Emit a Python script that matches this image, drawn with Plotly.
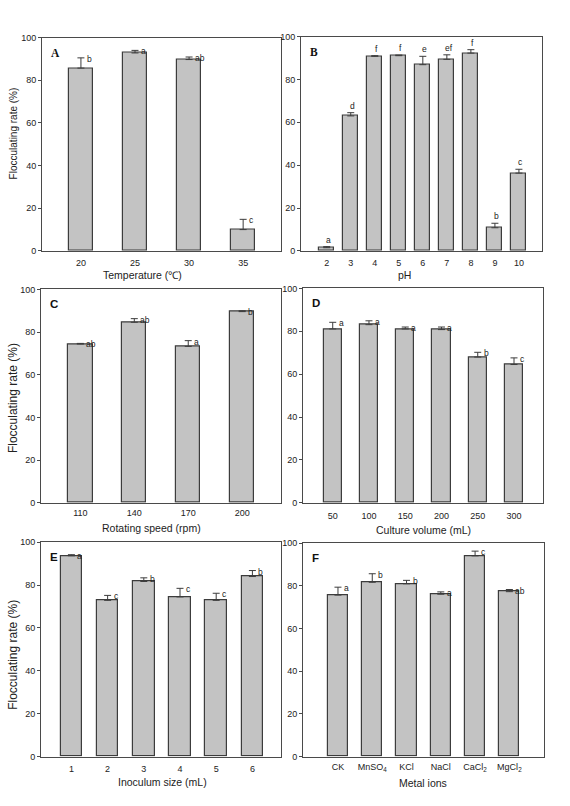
import plotly.graph_objects as go

# ---------------- data ----------------
temp_labels = ["20", "25", "30", "35"]
temp_mean = [85.7, 92.8, 89.7, 10.0]
temp_err = [4.8, 1.2, 1.2, 4.8]
temp_sig = ["b", "a", "ab", "c"]

ph_labels = ["2", "3", "4", "5", "6", "7", "8", "9", "10"]
ph_mean = [1.5, 63.0, 90.8, 91.1, 86.9, 89.4, 92.3, 10.8, 36.3]
ph_err = [0.5, 1.5, 0.3, 0.3, 3.9, 2.1, 1.6, 2.1, 1.8]
ph_sig = ["a", "d", "f", "f", "e", "ef", "f", "b", "c"]

speed_labels = ["110", "140", "170", "200"]
speed_mean = [74.4, 84.6, 73.3, 89.6]
speed_err = [0.3, 1.7, 2.7, 0.4]
speed_sig = ["ab", "ab", "a", "b"]

vol_labels = ["50", "100", "150", "200", "250", "300"]
vol_mean = [81.1, 83.1, 81.1, 80.8, 68.0, 64.5]
vol_err = [3.1, 1.8, 0.9, 1.2, 2.2, 3.1]
vol_sig = ["a", "a", "a", "a", "b", "c"]

inoc_labels = ["1", "2", "3", "4", "5", "6"]
inoc_mean = [93.7, 72.9, 81.7, 74.5, 72.9, 84.0]
inoc_err = [0.5, 2.3, 1.7, 4.0, 3.3, 2.8]
inoc_sig = ["a", "c", "b", "c", "c", "b"]

metal_labels = ["CK", "MnSO<sub>4</sub>", "KCl", "NaCl", "CaCl<sub>2</sub>", "MgCl<sub>2</sub>"]
metal_mean = [75.7, 81.7, 81.0, 76.1, 94.1, 77.3]
metal_err = [3.7, 4.0, 1.6, 1.1, 2.2, 1.0]
metal_sig = ["a", "b", "b", "a", "c", "ab"]

y_title = "Flocculating rate (%)"

# ---------------- layout helpers ----------------
W, H = 570, 806
FONT = "Liberation Sans, Arial, sans-serif"

def dx(px):
    return px / W

def dy(px):
    return 1 - px / H

panels = [
    dict(letter="A", lfont="Liberation Serif, Times New Roman, serif", labels=temp_labels, mean=temp_mean, err=temp_err, sig=temp_sig,
         xp=(42, 281), yp=(33, 249), xr=(-0.72, 3.70), bw=0.44, mode="right",
         xt="Temperature (\u2103)", xtpos=(142, 273.5), yt=True, ytfs=10, ytpos=(13, 130), tpad=3),
    dict(letter="B", lfont="Liberation Serif, Times New Roman, serif", labels=ph_labels, mean=ph_mean, err=ph_err, sig=ph_sig,
         xp=(301, 542), yp=(32, 249), xr=(-1.07, 8.96), bw=0.62, mode="above",
         xt="pH", xtpos=(404, 273), yt=False, tpad=3),
    dict(letter="C", lfont="Liberation Sans, Arial, sans-serif", labels=speed_labels, mean=speed_mean, err=speed_err, sig=speed_sig,
         xp=(41, 281), yp=(288, 504), xr=(-0.73, 3.72), bw=0.45, mode="right",
         xt="Rotating speed (rpm)", xtpos=(151, 530), yt=True, ytfs=12, ytpos=(13, 398), tpad=1),
    dict(letter="D", lfont="Liberation Sans, Arial, sans-serif", labels=vol_labels, mean=vol_mean, err=vol_err, sig=vol_sig,
         xp=(303, 543), yp=(287, 504), xr=(-0.82, 5.80), bw=0.5, mode="right",
         xt="Culture volume (mL)", xtpos=(423, 532), yt=False, tpad=4),
    dict(letter="E", lfont="Liberation Sans, Arial, sans-serif", labels=inoc_labels, mean=inoc_mean, err=inoc_err, sig=inoc_sig,
         xp=(41, 281), yp=(544, 761), xr=(-0.84, 5.79), bw=0.6, mode="right",
         xt="Inoculum size (mL)", xtpos=(162, 787), yt=True, ytfs=12, ytpos=(13, 658), tpad=4),
    dict(letter="F", lfont="Liberation Sans, Arial, sans-serif", labels=metal_labels, mean=metal_mean, err=metal_err, sig=metal_sig,
         xp=(303, 544), yp=(545, 761), xr=(-1.02, 6.01), bw=0.59, mode="right",
         xt="Metal ions", xtpos=(423, 788), yt=False, tpad=2),
]

fig = go.Figure()
annotations = []
layout_axes = {}

for i, p in enumerate(panels):
    n = i + 1
    xa = "x" if n == 1 else f"x{n}"
    ya = "y" if n == 1 else f"y{n}"
    xkey = "xaxis" if n == 1 else f"xaxis{n}"
    ykey = "yaxis" if n == 1 else f"yaxis{n}"
    idx = list(range(len(p["labels"])))
    fig.add_trace(go.Bar(
        x=idx, y=p["mean"], width=p["bw"], xaxis=xa, yaxis=ya,
        marker=dict(color="#c3c3c3", line=dict(color="#3c3c3c", width=1.2)),
        error_y=dict(type="data", array=p["err"], arrayminus=[0] * len(idx), symmetric=False,
                     color="#3c3c3c", thickness=1, width=3.5),
        showlegend=False, hoverinfo="skip",
    ))
    layout_axes[xkey] = dict(
        domain=[dx(p["xp"][0]), dx(p["xp"][1])], anchor=ya, range=list(p["xr"]),
        tickvals=idx, ticktext=p["labels"], ticks="outside", ticklen=p["tpad"],
        tickcolor="rgba(0,0,0,0)", showline=True, mirror=True, linecolor="#4a4a4a", linewidth=1,
        showgrid=False, zeroline=False, tickfont=dict(family=FONT, size=9, color="#222"),
    )
    layout_axes[ykey] = dict(
        domain=[dy(p["yp"][1]), dy(p["yp"][0])], anchor=xa, range=[0, 100],
        tickvals=[0, 20, 40, 60, 80, 100], ticks="outside", ticklen=3, tickcolor="#4a4a4a",
        showline=True, mirror=True, linecolor="#4a4a4a", linewidth=1,
        showgrid=False, zeroline=False, tickfont=dict(family=FONT, size=9, color="#222"),
    )
    for j, s in enumerate(p["sig"]):
        top = p["mean"][j] + p["err"][j]
        if p["mode"] == "above":
            annotations.append(dict(x=j, y=top, xref=xa, yref=ya, text=s, showarrow=False,
                                    xanchor="center", yanchor="bottom", xshift=2, yshift=0,
                                    font=dict(family=FONT, size=8.5, color="#222")))
        else:
            annotations.append(dict(x=j, y=top, xref=xa, yref=ya, text=s, showarrow=False,
                                    xanchor="left", yanchor="middle", xshift=4, yshift=-1,
                                    font=dict(family=FONT, size=8.5, color="#222")))
    annotations.append(dict(x=dx(p["xp"][0] + 7), y=dy(p["yp"][0] + 7), xref="paper", yref="paper",
                            text=f"<b>{p['letter']}</b>", showarrow=False, xanchor="left", yanchor="top",
                            font=dict(family=p["lfont"], size=11.5, color="#111")))
    annotations.append(dict(x=dx(p["xtpos"][0]), y=dy(p["xtpos"][1]), xref="paper", yref="paper",
                            text=p["xt"], showarrow=False, xanchor="center", yanchor="middle",
                            font=dict(family=FONT, size=10.5, color="#222")))
    if p["yt"]:
        annotations.append(dict(x=dx(p["ytpos"][0]), y=dy(p["ytpos"][1]), xref="paper", yref="paper",
                                text=y_title, showarrow=False, xanchor="center", yanchor="middle",
                                textangle=-90, font=dict(family=FONT, size=p["ytfs"], color="#222")))

fig.update_layout(
    width=W, height=H, margin=dict(l=0, r=0, t=0, b=0),
    paper_bgcolor="white", plot_bgcolor="white",
    annotations=annotations, bargap=0,
    **layout_axes,
)

fig.write_html("out.html", config={"displayModeBar": False},
               post_script="document.body.style.margin='0';")
